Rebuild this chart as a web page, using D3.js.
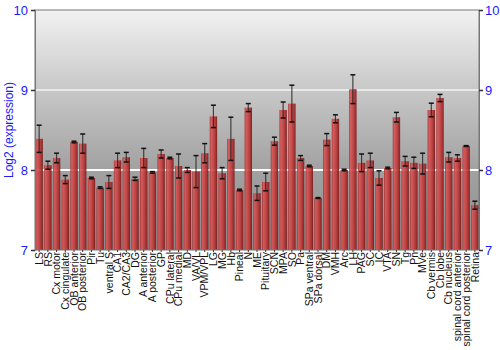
<!DOCTYPE html>
<html>
<head>
<meta charset="utf-8">
<script src="https://cdn.jsdelivr.net/npm/d3@7"></script>
<style>
  body { margin: 0; background: #fff; }
  text { font-family: "Liberation Sans", Arial, sans-serif; }
</style>
</head>
<body>
<div id="chart"></div>
<script>
// tissue names, mean log2 expression, and error (+/-)
var tissues = ["LS", "RS", "Cx motor", "Cx cingulate", "OB anterior", "OB posterior", "Pir", "Tu",
  "ventral S", "CA1", "CA2/CA3", "DG", "A anterior", "A posterior", "GP", "CPu lateral", "CPu medial",
  "MD", "VA/VL", "VPM/VPL", "LG", "MG", "Hb", "Pineal", "N", "ME", "Pituitary", "SCN", "MPA", "SO",
  "Pa", "SPa ventral", "SPa dorsal", "DM", "VMH", "Arc", "LH", "PAG", "SC", "IC", "VTA", "SN", "Tg",
  "Pn", "MVe", "Cb vermis", "Cb lobe", "Cb nucleus", "spinal cord anterior", "spinal cord posterior", "Retina"];

var values = [8.39, 8.06, 8.15, 7.88, 8.35, 8.33, 7.90, 7.78,
  7.85, 8.12, 8.16, 7.89, 8.15, 7.97, 8.20, 8.15, 8.05,
  8.00, 7.98, 8.21, 8.67, 7.96, 8.39, 7.75, 8.78, 7.71, 7.85, 8.36, 8.75, 8.83,
  8.15, 8.05, 7.65, 8.38, 8.64, 8.00, 9.01, 8.09, 8.12, 7.90, 8.025, 8.66, 8.11,
  8.09, 8.08, 8.75, 8.90, 8.16, 8.15, 8.30, 7.56];

var errors = [0.17, 0.05, 0.06, 0.05, 0.01, 0.12, 0.01, 0.01,
  0.08, 0.09, 0.06, 0.02, 0.12, 0.01, 0.05, 0.01, 0.15,
  0.03, 0.20, 0.12, 0.14, 0.07, 0.27, 0.01, 0.05, 0.09, 0.11, 0.05, 0.10, 0.23,
  0.03, 0.01, 0.005, 0.075, 0.05, 0.01, 0.18, 0.11, 0.09, 0.09, 0.01, 0.06, 0.06,
  0.07, 0.13, 0.085, 0.045, 0.06, 0.04, 0.005, 0.05];

var yTicks = [7, 8, 9, 10];

var width = 500, height = 350;
var margin = {top: 10, right: 21, bottom: 100, left: 35};
var w = width - margin.left - margin.right,
    h = height - margin.top - margin.bottom;

var svg = d3.select("#chart").append("svg")
    .attr("width", width)
    .attr("height", height);

var defs = svg.append("defs");

// background gradient (light top, darker bottom)
var bg = defs.append("linearGradient").attr("id", "bg")
    .attr("x1", 0).attr("y1", 0).attr("x2", 0).attr("y2", 1);
bg.append("stop").attr("offset", "0%").attr("stop-color", "#f2f2f2");
bg.append("stop").attr("offset", "33%").attr("stop-color", "#c8c8c8");
bg.append("stop").attr("offset", "66%").attr("stop-color", "#a2a2a2");
bg.append("stop").attr("offset", "100%").attr("stop-color", "#8c8c8c");

// bar gradient across the bar
var bar = defs.append("linearGradient").attr("id", "bar")
    .attr("x1", 0).attr("y1", 0).attr("x2", 1).attr("y2", 0);
bar.append("stop").attr("offset", "0%").attr("stop-color", "#a52a2a");
bar.append("stop").attr("offset", "18%").attr("stop-color", "#d65656");
bar.append("stop").attr("offset", "55%").attr("stop-color", "#c43c3c");
bar.append("stop").attr("offset", "85%").attr("stop-color", "#9c2424");
bar.append("stop").attr("offset", "100%").attr("stop-color", "#6e1010");

var g = svg.append("g")
    .attr("transform", "translate(" + margin.left + "," + margin.top + ")");

var x = d3.scaleBand().domain(tissues).range([0, w]).paddingInner(0.15).paddingOuter(0.05);
var y = d3.scaleLinear().domain([7, 10]).range([h, 0]);

g.append("rect")
    .attr("width", w).attr("height", h)
    .attr("fill", "url(#bg)");

// grid lines
g.selectAll("line.grid")
  .data([8, 9])
  .enter().append("line")
    .attr("class", "grid")
    .attr("x1", 0).attr("x2", w)
    .attr("y1", function(d) { return y(d); })
    .attr("y2", function(d) { return y(d); })
    .attr("stroke", "#fff")
    .attr("stroke-opacity", function(d) { return d == 8 ? 1 : 0.6; })
    .attr("stroke-width", 2);

// bars
g.selectAll("rect.bar")
  .data(tissues)
  .enter().append("rect")
    .attr("class", "bar")
    .attr("x", function(d) { return x(d); })
    .attr("width", x.bandwidth())
    .attr("y", function(d, i) { return y(values[i]); })
    .attr("height", function(d, i) { return h - y(values[i]); })
    .attr("fill", "url(#bar)")
    .attr("fill-opacity", 0.9);

// error bars
var eb = g.selectAll("g.err")
  .data(tissues)
  .enter().append("g")
    .attr("class", "err")
    .attr("transform", function(d) { return "translate(" + (x(d) + x.bandwidth() / 2) + ",0)"; });

eb.append("line")
    .attr("y1", function(d, i) { return y(values[i] + errors[i]); })
    .attr("y2", function(d, i) { return y(values[i] - errors[i]); })
    .attr("stroke", "#222")
    .attr("stroke-opacity", 0.8)
    .attr("stroke-width", 1.2);

[1, -1].forEach(function(s) {
  eb.append("line")
    .attr("x1", -2.5).attr("x2", 2.5)
    .attr("y1", function(d, i) { return y(values[i] + s * errors[i]); })
    .attr("y2", function(d, i) { return y(values[i] + s * errors[i]); })
    .attr("stroke", "#111")
    .attr("stroke-width", 1.5);
});

// frame
g.append("rect")
    .attr("width", w).attr("height", h)
    .attr("fill", "none")
    .attr("stroke", "#777")
    .attr("stroke-width", 1);

// y axes left and right
var yl = g.append("g").call(d3.axisLeft(y).tickValues(yTicks).tickSize(4).tickPadding(3).tickFormat(d3.format("d")));
var yr = g.append("g").attr("transform", "translate(" + w + ",0)")
    .call(d3.axisRight(y).tickValues(yTicks).tickSize(4).tickPadding(2).tickFormat(d3.format("d")));
[yl, yr].forEach(function(a) {
  a.select(".domain").attr("stroke", "#777");
  a.selectAll(".tick line").attr("stroke", "#333").attr("stroke-width", 1.5);
  a.selectAll(".tick text").attr("fill", "#1a1aff").style("font-size", "13px")
    .style("font-family", "'Liberation Sans', Arial, sans-serif");
});

// x labels
var xa = g.append("g").attr("transform", "translate(0," + h + ")")
    .call(d3.axisBottom(x).tickSize(2).tickSizeOuter(0));
xa.select(".domain").remove();
xa.selectAll(".tick line").attr("stroke", "#333");
xa.selectAll(".tick text")
    .attr("transform", "rotate(-90)")
    .attr("text-anchor", "end")
    .attr("x", -2).attr("y", 0).attr("dy", "0.35em")
    .attr("fill", "#111")
    .style("font-size", "10.5px")
    .style("font-family", "'Liberation Sans', Arial, sans-serif");

// y label
svg.append("text")
    .attr("transform", "translate(13," + (margin.top + h / 2) + ") rotate(-90)")
    .attr("text-anchor", "middle")
    .attr("fill", "#1a1aff")
    .style("font-size", "12px")
    .text("Log2 (expression)");
</script>
</body>
</html>
